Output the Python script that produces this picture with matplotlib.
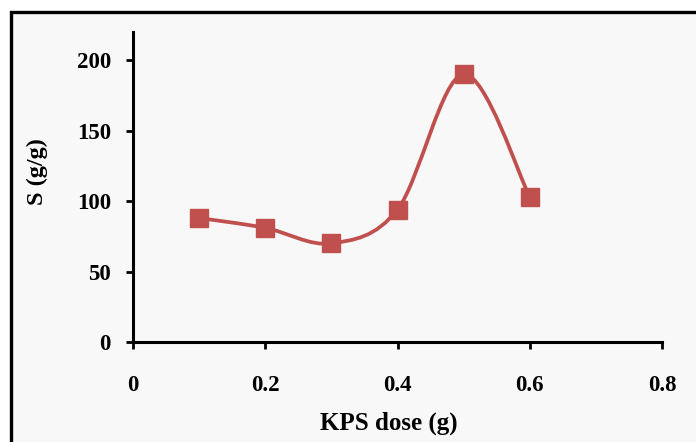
import numpy as np
import matplotlib.pyplot as plt
from matplotlib.path import Path
from matplotlib.patches import PathPatch, Rectangle

# KPS dose (g) vs swelling S (g/g)
kps_dose = [0.1, 0.2, 0.3, 0.4, 0.5, 0.6]
swelling = [88, 81, 70, 94, 190, 103]

x_ticks = [0, 0.2, 0.4, 0.6, 0.8]
x_tick_labels = ['0', '0.2', '0.4', '0.6', '0.8']
y_ticks = [0, 50, 100, 150, 200]

red = '#C0504D'

plt.rcParams['font.family'] = ['Liberation Serif', 'DejaVu Serif']
plt.rcParams['font.weight'] = 'bold'

fig = plt.figure(figsize=(6.96, 4.42), dpi=100, facecolor='white')

# outer frame like the pasted chart area (right/bottom edges cut off)
W, H = 696, 442
fig.patches.append(Rectangle((10.5 / W, -0.05), 1.2, 1 - 11.5 / H + 0.05,
                             transform=fig.transFigure, facecolor='#f8f8f8',
                             edgecolor='black', linewidth=2.4, zorder=-5))

ax = fig.add_axes([133 / W, 1 - 342 / H, (662 - 133) / W, (342 - 32) / H])
ax.set_facecolor('none')
ax.set_zorder(2)

# smoothed line (Excel style: Catmull-Rom through the points, as Bezier)
xs = np.array(kps_dose, dtype=float)
ys = np.array(swelling, dtype=float)
px = np.concatenate([[xs[0]], xs, [xs[-1]]])
py = np.concatenate([[ys[0]], ys, [ys[-1]]])
verts = [(xs[0], ys[0])]
codes = [Path.MOVETO]
for i in range(1, len(px) - 2):
    c1 = (px[i] + (px[i + 1] - px[i - 1]) / 6, py[i] + (py[i + 1] - py[i - 1]) / 6)
    c2 = (px[i + 1] - (px[i + 2] - px[i]) / 6, py[i + 1] - (py[i + 2] - py[i]) / 6)
    verts += [c1, c2, (px[i + 1], py[i + 1])]
    codes += [Path.CURVE4] * 3
ax.add_patch(PathPatch(Path(verts, codes), facecolor='none', edgecolor=red,
                       linewidth=2.7, zorder=2))
ax.plot(kps_dose, swelling, linestyle='none', marker='s', markersize=13.5,
        color=red, zorder=3)

ax.set_xlim(0, 0.8)
ax.set_ylim(0, 220)
ax.set_xticks(x_ticks)
ax.set_xticklabels(x_tick_labels)
ax.set_yticks(y_ticks)

for side in ['top', 'right']:
    ax.spines[side].set_visible(False)
for side in ['left', 'bottom']:
    ax.spines[side].set_linewidth(2.2)

ax.tick_params(axis='both', direction='out', length=5, width=2,
               labelsize=16.5)
ax.tick_params(axis='x', pad=19)
ax.tick_params(axis='y', pad=11)

ax.set_xlabel('KPS dose (g)', fontsize=18, fontweight='bold')
ax.set_ylabel('S (g/g)', fontsize=17.5, fontweight='bold')
ax.xaxis.set_label_coords((389 - 133) / (662 - 133), -(423 - 342) / (342 - 32),
                          transform=ax.transAxes)
ax.xaxis.label.set_va('center')
ax.yaxis.set_label_coords(-(133 - 37) / (662 - 133), (342 - 172) / (342 - 32),
                          transform=ax.transAxes)
ax.yaxis.label.set_va('center')

fig.savefig('out.png', dpi=100, facecolor=fig.get_facecolor())
